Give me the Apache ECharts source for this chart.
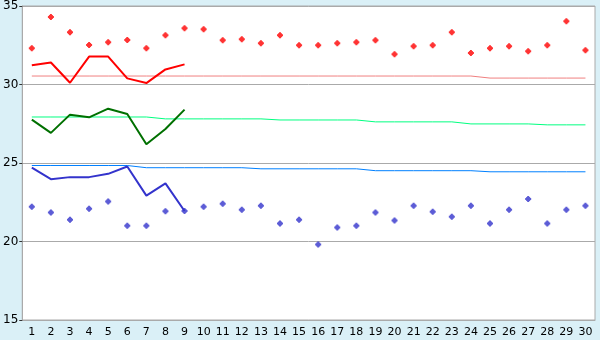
<!DOCTYPE html>
<html>
<head>
<meta charset="utf-8">
<script src="https://cdn.jsdelivr.net/npm/echarts@6/dist/echarts.min.js"></script>
<style>
html,body{margin:0;padding:0;background:#daf0f7;}
#c{width:600px;height:340px;}
</style>
</head>
<body>
<div id="c"></div>
<script>
var categories = ['1','2','3','4','5','6','7','8','9','10','11','12','13','14','15','16','17','18','19','20','21','22','23','24','25','26','27','28','29','30'];
var yTicks = [15, 20, 25, 30, 35];

var redPoints = [32.31,34.30,33.33,32.52,32.69,32.84,32.31,33.14,33.58,33.52,32.82,32.88,32.63,33.14,32.50,32.50,32.63,32.69,32.82,31.93,32.44,32.50,33.33,32.00,32.31,32.44,32.12,32.50,34.03,32.18];
var redLine = [31.23,31.40,30.11,31.78,31.78,30.39,30.09,30.96,31.28];
var pinkLine = [30.54,30.54,30.54,30.54,30.54,30.54,30.54,30.54,30.54,30.54,30.54,30.54,30.54,30.54,30.54,30.54,30.54,30.54,30.54,30.54,30.54,30.54,30.54,30.54,30.41,30.41,30.41,30.41,30.41,30.41];

var greenLine = [27.76,26.92,28.08,27.91,28.46,28.12,26.19,27.17,28.40];
var lightGreenLine = [27.93,27.93,27.93,27.93,27.93,27.93,27.93,27.81,27.81,27.81,27.81,27.81,27.81,27.74,27.74,27.74,27.74,27.74,27.62,27.62,27.62,27.62,27.62,27.49,27.49,27.49,27.49,27.43,27.43,27.43];

var blueLine = [24.70,23.97,24.10,24.10,24.31,24.78,22.92,23.70,21.94];
var lightBlueLine = [24.84,24.84,24.84,24.84,24.84,24.84,24.70,24.70,24.70,24.70,24.70,24.70,24.63,24.63,24.63,24.63,24.63,24.63,24.51,24.51,24.51,24.51,24.51,24.51,24.44,24.44,24.44,24.44,24.44,24.44];
var bluePoints = [22.22,21.84,21.39,22.09,22.54,21.01,21.01,21.92,21.94,22.22,22.41,22.03,22.28,21.14,21.39,19.81,20.89,21.01,21.84,21.33,22.28,21.90,21.58,22.28,21.14,22.03,22.71,21.14,22.03,22.28];

var marker = 'path://M2,0H4V1H5V2H6V4H5V5H4V6H2V5H1V4H0V2H1V1H2Z';
var font = 'DejaVu Sans';

var chart = echarts.init(document.getElementById('c'), null, {renderer: 'canvas'});
chart.setOption({
  animation: false,
  backgroundColor: '#daf0f7',
  grid: {left: 20, right: 5, top: 5, bottom: 20, show: true, backgroundColor: '#ffffff', borderColor: '#aaaaaa', borderWidth: 1},
  xAxis: {
    type: 'category',
    data: categories,
    boundaryGap: true,
    axisLine: {lineStyle: {color: '#aaaaaa', width: 1}},
    axisTick: {alignWithLabel: true, length: 5, lineStyle: {color: '#000000'}},
    axisLabel: {color: '#000000', fontFamily: font, fontSize: 11, margin: 7, interval: 0},
    splitLine: {show: false}
  },
  yAxis: {
    type: 'value',
    min: yTicks[0], max: yTicks[yTicks.length - 1], interval: 5,
    axisLine: {show: true, lineStyle: {color: '#aaaaaa', width: 1}},
    axisTick: {show: true, length: 3, lineStyle: {color: '#333333'}},
    axisLabel: {color: '#000000', fontFamily: font, fontSize: 12, margin: 4},
    splitLine: {show: true, lineStyle: {color: '#aaaaaa', width: 1}}
  },
  series: [
    {type: 'line', data: pinkLine, symbol: 'none', lineStyle: {color: '#f08080', width: 1}, z: 2},
    {type: 'line', data: lightGreenLine, symbol: 'none', lineStyle: {color: '#00ff80', width: 1}, z: 2},
    {type: 'line', data: lightBlueLine, symbol: 'none', lineStyle: {color: '#0080ff', width: 1}, z: 2},
    {type: 'line', data: redLine, symbol: 'none', lineStyle: {color: '#ff0000', width: 2}, z: 3},
    {type: 'line', data: greenLine, symbol: 'none', lineStyle: {color: '#007000', width: 2}, z: 3},
    {type: 'line', data: blueLine, symbol: 'none', lineStyle: {color: '#3333cc', width: 2}, z: 3},
    {type: 'scatter', data: redPoints, symbol: marker, symbolSize: 6, itemStyle: {color: '#ff0000'}, z: 4},
    {type: 'scatter', data: bluePoints, symbol: marker, symbolSize: 6, itemStyle: {color: '#3333cc'}, z: 4}
  ]
});
</script>
</body>
</html>
